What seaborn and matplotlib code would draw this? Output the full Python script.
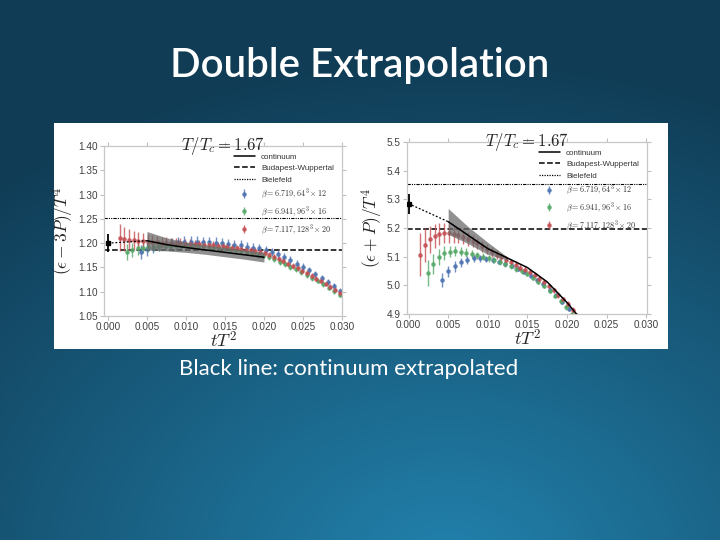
import numpy as np
import matplotlib
matplotlib.use("Agg")
import matplotlib.pyplot as plt
import seaborn as sns
from matplotlib.patches import Rectangle
from matplotlib.lines import Line2D

# ---------------- data ----------------
slide_title = "Double Extrapolation"
caption = "Black line: continuum extrapolated"
panel_title = r"$T/T_c = 1.67$"
xlabel = r"$tT^2$"
ylabels = [r"$(\epsilon - 3P)/T^4$", r"$(\epsilon + P)/T^4$"]
xticks = [0.000, 0.005, 0.010, 0.015, 0.020, 0.025, 0.030]
yticks_left = [1.05, 1.10, 1.15, 1.20, 1.25, 1.30, 1.35, 1.40]
yticks_right = [4.9, 5.0, 5.1, 5.2, 5.3, 5.4, 5.5]
labels = ["continuum", "Budapest-Wuppertal", "Bielefeld",
          r"$\beta = 6.719, 64^3\times 12$",
          r"$\beta = 6.941, 96^3\times 16$",
          r"$\beta = 7.117, 128^3\times 20$"]

# beta = 6.719 (blue)
x_b = [0.0042, 0.0050, 0.0058, 0.0066, 0.0074, 0.0082, 0.0090, 0.0098, 0.0106, 0.0114,
       0.0122, 0.0130, 0.0138, 0.0146, 0.0154, 0.0162, 0.0170, 0.0178, 0.0186, 0.0194,
       0.0202, 0.0210, 0.0218, 0.0226, 0.0234, 0.0242, 0.0250, 0.0258, 0.0266, 0.0274,
       0.0282, 0.0290, 0.0298]
yL_b = [1.182, 1.187, 1.191, 1.195, 1.198, 1.200, 1.202, 1.203, 1.203, 1.203,
        1.202, 1.202, 1.201, 1.200, 1.199, 1.197, 1.196, 1.193, 1.191, 1.189,
        1.186, 1.182, 1.177, 1.171, 1.165, 1.158, 1.151, 1.144, 1.136, 1.128,
        1.120, 1.111, 1.102]
eL_b = [0.014, 0.013, 0.012, 0.012, 0.011, 0.011, 0.011, 0.011, 0.011, 0.011,
        0.011, 0.011, 0.011, 0.010, 0.010, 0.010, 0.010, 0.010, 0.010, 0.009,
        0.009, 0.009, 0.009, 0.008, 0.008, 0.008, 0.008, 0.007, 0.007, 0.007,
        0.007, 0.006, 0.006]
yR_b = [5.019, 5.049, 5.066, 5.081, 5.089, 5.094, 5.095, 5.093, 5.089, 5.083,
        5.076, 5.068, 5.058, 5.047, 5.034, 5.019, 5.003, 4.985, 4.965, 4.943,
        4.919, 4.893]
eR_b = [0.025, 0.020, 0.018, 0.016, 0.014, 0.013, 0.012, 0.011, 0.010, 0.010,
        0.010, 0.009, 0.009, 0.009, 0.008, 0.008, 0.008, 0.008, 0.007, 0.007,
        0.007, 0.007]

# beta = 6.941 (green)
x_g = [0.0024, 0.0031, 0.0038, 0.0045, 0.0052, 0.0059, 0.0066, 0.0073, 0.0080, 0.0087,
       0.0094, 0.0101, 0.0108, 0.0115, 0.0122, 0.0129, 0.0136, 0.0143, 0.0150, 0.0157,
       0.0164, 0.0171, 0.0178, 0.0185, 0.0192, 0.0199, 0.0206, 0.0213, 0.0220, 0.0227,
       0.0234, 0.0241, 0.0248, 0.0255, 0.0262, 0.0269, 0.0276, 0.0283, 0.0290, 0.0297]
yL_g = [1.182, 1.186, 1.189, 1.191, 1.192, 1.193, 1.194, 1.194, 1.195, 1.195,
        1.195, 1.195, 1.195, 1.194, 1.194, 1.193, 1.192, 1.191, 1.190, 1.188,
        1.186, 1.184, 1.182, 1.179, 1.176, 1.174, 1.172, 1.167, 1.162, 1.157,
        1.151, 1.146, 1.140, 1.134, 1.128, 1.122, 1.115, 1.108, 1.101, 1.094]
eL_g = [0.017, 0.015, 0.013, 0.012, 0.011, 0.010, 0.010, 0.009, 0.009, 0.009,
        0.008, 0.008, 0.008, 0.008, 0.008, 0.008, 0.007, 0.007, 0.007, 0.007,
        0.007, 0.007, 0.007, 0.006, 0.006, 0.006, 0.006, 0.006, 0.006, 0.006,
        0.006, 0.005, 0.005, 0.005, 0.005, 0.005, 0.005, 0.005, 0.005, 0.005]
yR_g = [5.042, 5.075, 5.098, 5.112, 5.118, 5.119, 5.117, 5.114, 5.110, 5.105,
        5.100, 5.094, 5.088, 5.081, 5.074, 5.066, 5.058, 5.049, 5.040, 5.026,
        5.012, 4.997, 4.981, 4.963, 4.944, 4.923, 4.900, 4.876]
eR_g = [0.045, 0.035, 0.028, 0.024, 0.020, 0.018, 0.016, 0.015, 0.014, 0.013,
        0.012, 0.012, 0.011, 0.011, 0.010, 0.010, 0.010, 0.009, 0.009, 0.009,
        0.009, 0.008, 0.008, 0.008, 0.008, 0.008, 0.008, 0.008]

# beta = 7.117 (red)
x_r = [0.0015, 0.0021, 0.0027, 0.0033, 0.0039, 0.0045, 0.0051, 0.0057, 0.0063, 0.0069,
       0.0075, 0.0081, 0.0087, 0.0093, 0.0099, 0.0105, 0.0111, 0.0117, 0.0123, 0.0129,
       0.0135, 0.0141, 0.0147, 0.0153, 0.0159, 0.0165, 0.0171, 0.0177, 0.0183, 0.0189,
       0.0195, 0.0201, 0.0207, 0.0213, 0.0219, 0.0225, 0.0231, 0.0237, 0.0243, 0.0249,
       0.0255, 0.0261, 0.0267, 0.0273, 0.0279, 0.0285, 0.0291, 0.0297]
yL_r = [1.211, 1.209, 1.207, 1.206, 1.205, 1.204, 1.203, 1.202, 1.202, 1.201,
        1.201, 1.200, 1.200, 1.200, 1.199, 1.199, 1.198, 1.198, 1.197, 1.196,
        1.196, 1.195, 1.194, 1.193, 1.191, 1.190, 1.188, 1.186, 1.185, 1.183,
        1.181, 1.179, 1.176, 1.172, 1.168, 1.163, 1.158, 1.153, 1.148, 1.143,
        1.138, 1.133, 1.127, 1.122, 1.116, 1.110, 1.104, 1.097]
eL_r = [0.028, 0.025, 0.022, 0.020, 0.018, 0.016, 0.015, 0.014, 0.013, 0.012,
        0.011, 0.011, 0.010, 0.010, 0.010, 0.009, 0.009, 0.009, 0.009, 0.008,
        0.008, 0.008, 0.008, 0.008, 0.007, 0.007, 0.007, 0.007, 0.007, 0.007,
        0.007, 0.006, 0.006, 0.006, 0.006, 0.006, 0.006, 0.006, 0.006, 0.005,
        0.005, 0.005, 0.005, 0.005, 0.005, 0.005, 0.005, 0.005]
yR_r = [5.106, 5.140, 5.160, 5.172, 5.179, 5.181, 5.181, 5.179, 5.175, 5.169,
        5.162, 5.154, 5.146, 5.137, 5.127, 5.117, 5.107, 5.098, 5.089, 5.080,
        5.071, 5.062, 5.054, 5.045, 5.035, 5.023, 5.010, 4.996, 4.982, 4.967,
        4.951, 4.934, 4.914, 4.893]
eR_r = [0.075, 0.060, 0.048, 0.042, 0.038, 0.035, 0.032, 0.030, 0.028, 0.026,
        0.024, 0.022, 0.020, 0.019, 0.018, 0.017, 0.016, 0.015, 0.014, 0.013,
        0.013, 0.012, 0.012, 0.011, 0.011, 0.011, 0.010, 0.010, 0.010, 0.010,
        0.010, 0.010, 0.010, 0.010]

# continuum extrapolation (line + band)
xL_c = [0.005, 0.0075, 0.010, 0.0125, 0.015, 0.0175, 0.020]
yL_c = [1.205, 1.197, 1.191, 1.186, 1.181, 1.176, 1.171]
yL_c_hi = [1.224, 1.211, 1.202, 1.196, 1.191, 1.186, 1.181]
yL_c_lo = [1.186, 1.184, 1.181, 1.177, 1.172, 1.167, 1.161]
xR_c = [0.005, 0.0075, 0.010, 0.0125, 0.015, 0.0175, 0.020, 0.0215]
yR_c = [5.222, 5.175, 5.128, 5.095, 5.062, 5.012, 4.940, 4.890]
xR_band = [0.005, 0.0075, 0.010, 0.0125]
yR_c_hi = [5.268, 5.205, 5.150, 5.098]
yR_c_lo = [5.178, 5.146, 5.108, 5.088]

# t -> 0 extrapolated values
x_ext = [0.0, 0.005]
yL_ext = [1.200, 1.205]
yR_ext = [5.285, 5.222]
yL_zero, eL_zero = 1.200, 0.018
yR_zero, eR_zero = 5.285, 0.035

# reference values
bw = [1.185, 5.195]
bielefeld = [1.252, 5.355]

# ---------------- figure ----------------
sns.set_theme(style="ticks")
plt.rcParams["mathtext.fontset"] = "cm"
plt.rcParams["font.family"] = ["Liberation Sans", "DejaVu Sans"]

W, H = 720, 540
fig = plt.figure(figsize=(7.2, 5.4), dpi=100)

# slide background: radial gradient
bg = fig.add_axes([0, 0, 1, 1], zorder=-10)
yy, xx = np.mgrid[0:H, 0:W]
d = np.sqrt(((xx - 0.62 * W) / (0.95 * W)) ** 2 + ((yy - 1.05 * H) / (0.95 * H)) ** 2)
d = np.clip(d, 0, 1)
c_in = np.array([0x22, 0x82, 0xad]) / 255
c_out = np.array([0x10, 0x3c, 0x55]) / 255
img = c_in[None, None, :] * (1 - d[..., None]) + c_out[None, None, :] * d[..., None]
bg.imshow(img, extent=[0, 1, 0, 1], aspect="auto", origin="upper")
bg.set_axis_off()

fig.text(0.5, 1 - 66 / H, slide_title, ha="center", va="center", color="white",
         fontsize=29, fontfamily="Lato", fontweight="semibold")
fig.text(0.5 - 11 / W, 1 - 369 / H, caption, ha="center", va="center", color="white",
         fontsize=16, fontfamily="Lato")

fig.patches.append(Rectangle((54 / W, 1 - 349 / H), (668 - 54) / W, (349 - 123) / H,
                             transform=fig.transFigure, facecolor="white",
                             edgecolor="none", zorder=-5))

pal = sns.color_palette("deep")
c_blue, c_green, c_red = pal[0], pal[2], pal[3]

axL = fig.add_axes([104 / W, 1 - 316 / H, (342 - 104) / W, (316 - 146) / H])
axR = fig.add_axes([407 / W, 1 - 314 / H, (647 - 407) / W, (314 - 142) / H])


def draw(ax, series, xc, yc, xband, yhi, ylo, yext, y0, e0, i):
    conts = []
    for (xs, ys, es, col) in series:
        n = len(ys)
        c = ax.errorbar(xs[:n], ys, yerr=es, fmt="o", ms=2.3, color=col, ecolor=col,
                        elinewidth=1.0, alpha=0.8, capsize=0, zorder=2)
        conts.append(c)
    ax.fill_between(xband, ylo, yhi, color="0.42", alpha=0.75, lw=0, zorder=3)
    sns.lineplot(x=xc, y=yc, ax=ax, color="black", lw=1.1, zorder=4)
    sns.lineplot(x=x_ext, y=yext, ax=ax, color="black", lw=0.9, ls=(0, (1.5, 1.5)), zorder=4)
    ax.errorbar([0.0], [y0], yerr=[e0], fmt="s", ms=2.5, color="black",
                elinewidth=1.3, capsize=0, zorder=5)
    ax.axhline(bw[i], color="black", ls="--", lw=1.1, zorder=1)
    ax.axhline(bielefeld[i], color="black", ls=(0, (3, 1, 1, 1, 1, 1)), lw=0.8, zorder=1)
    return conts


seriesL = [(x_b, yL_b, eL_b, c_blue), (x_g, yL_g, eL_g, c_green), (x_r, yL_r, eL_r, c_red)]
seriesR = [(x_b, yR_b, eR_b, c_blue), (x_g, yR_g, eR_g, c_green), (x_r, yR_r, eR_r, c_red)]
contsL = draw(axL, seriesL, xL_c, yL_c, xL_c, yL_c_hi, yL_c_lo, yL_ext, yL_zero, eL_zero, 0)
contsR = draw(axR, seriesR, xR_c, yR_c, xR_band, yR_c_hi, yR_c_lo, yR_ext, yR_zero, eR_zero, 1)

for ax, conts, yt, yl, ylab, xl in [
        (axL, contsL, yticks_left, (1.05, 1.40), ylabels[0], (-0.0005, 0.030)),
        (axR, contsR, yticks_right, (4.9, 5.5), ylabels[1], (-0.0002, 0.0301))]:
    ax.set_xlim(*xl)
    ax.set_ylim(*yl)
    ax.set_xticks(xticks)
    ax.set_xticklabels([f"{v:.3f}" for v in xticks])
    ax.set_yticks(yt)
    ax.set_yticklabels([f"{v:.2f}" if ax is axL else f"{v:.1f}" for v in yt])
    ax.tick_params(axis="both", labelsize=7.2, colors="0.75", labelcolor="0.25",
                   length=3, width=0.8, direction="out", pad=1.5,
                   top=True, right=True)
    for s in ax.spines.values():
        s.set_color("0.78")
        s.set_linewidth(0.9)
    ax.set_xlabel(xlabel, fontsize=13, labelpad=-1)
    ax.set_ylabel(ylab, fontsize=12.5, labelpad=1.5)
    ax.set_title(panel_title, fontsize=12, pad=-3)
    ax.set_facecolor("white")

    h = [Line2D([], [], color="black", lw=1.1),
         Line2D([], [], color="black", lw=1.1, ls="--"),
         Line2D([], [], color="black", lw=0.9, ls=(0, (1, 1)))] + conts
    leg = ax.legend(h, labels, loc="upper right", fontsize=5.8, frameon=False,
                    handlelength=2.6, labelspacing=0.45, borderaxespad=0.3,
                    bbox_to_anchor=(0.99, 0.99))
    for t in leg.get_texts():
        t.set_color("0.2")

fig.savefig("out.png", dpi=100)
